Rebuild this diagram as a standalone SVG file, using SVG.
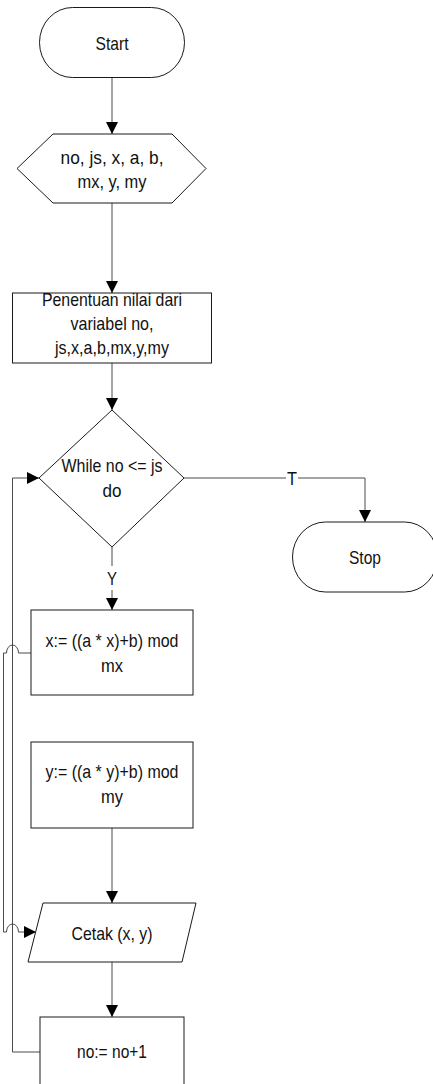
<svg xmlns="http://www.w3.org/2000/svg" width="433" height="1084" viewBox="0 0 433 1084">
<defs>
<marker id="arr" markerUnits="userSpaceOnUse" markerWidth="12" markerHeight="13" refX="12" refY="6" orient="auto">
<path d="M0,0 L12,6 L0,12 z" fill="#000"/>
</marker>
<style>
.shape{fill:#fff;stroke:#1a1a1a;stroke-width:1}
.conn{fill:none;stroke:#4a4a4a;stroke-width:1}
text{font-family:"Liberation Sans",Arial,sans-serif;font-size:19px;fill:#111;text-anchor:middle}
.lbl{fill:#fff;stroke:none}
</style>
</defs>
<rect width="433" height="1084" fill="#fff"/>
<g id="connectors">
<path class="conn" d="M112,77 V134" marker-end="url(#arr)"/>
<path class="conn" d="M112,203 V293" marker-end="url(#arr)"/>
<path class="conn" d="M112,363 V410" marker-end="url(#arr)"/>
<path class="conn" d="M112,547 V610" marker-end="url(#arr)"/>
<path class="conn" d="M184,478 H365 V522" marker-end="url(#arr)"/>
<path class="conn" d="M112,828 V903" marker-end="url(#arr)"/>
<path class="conn" d="M112,962 V1017" marker-end="url(#arr)"/>
<path class="conn" d="M40,1052 H12.5 V478 H39" marker-end="url(#arr)"/>
<path class="conn" d="M31,653 H18.5 A6,8 0 0 0 6.5,653 H3.5 V932 H6.5 A6,8 0 0 1 18.5,932 H36" marker-end="url(#arr)"/>
<rect class="lbl" x="106" y="566" width="12" height="24"/>
<text x="112" y="585" textLength="10" lengthAdjust="spacingAndGlyphs">Y</text>
<rect class="lbl" x="286" y="468" width="12" height="20"/>
<text x="292" y="485" textLength="10" lengthAdjust="spacingAndGlyphs">T</text>
</g>
<g id="start">
<rect class="shape" x="39.5" y="7.5" width="145" height="70" rx="33" ry="35"/>
<text x="112" y="49.5" textLength="33" lengthAdjust="spacingAndGlyphs">Start</text>
</g>
<g id="input">
<polygon class="shape" points="17,168.5 53,134 172,134 206,168.5 172,203 53,203"/>
<text x="112" y="164" textLength="103" lengthAdjust="spacingAndGlyphs">no, js, x, a, b,</text>
<text x="112" y="188" textLength="69" lengthAdjust="spacingAndGlyphs">mx, y, my</text>
</g>
<g id="init">
<rect class="shape" x="12.5" y="293" width="199" height="70"/>
<text x="112" y="306" textLength="140" lengthAdjust="spacingAndGlyphs">Penentuan nilai dari</text>
<text x="112" y="330" textLength="83" lengthAdjust="spacingAndGlyphs">variabel no,</text>
<text x="112" y="354" textLength="114" lengthAdjust="spacingAndGlyphs">js,x,a,b,mx,y,my</text>
</g>
<g id="while">
<polygon class="shape" points="112,410 184,478 112,547 39,478"/>
<text x="112" y="472" textLength="101" lengthAdjust="spacingAndGlyphs">While no &lt;= js</text>
<text x="112" y="497" textLength="19" lengthAdjust="spacingAndGlyphs">do</text>
</g>
<g id="stop">
<rect class="shape" x="292.5" y="522" width="145" height="70" rx="33" ry="35"/>
<text x="365" y="564" textLength="32" lengthAdjust="spacingAndGlyphs">Stop</text>
</g>
<g id="calcx">
<rect class="shape" x="31" y="610" width="162" height="85"/>
<text x="112" y="647" textLength="133" lengthAdjust="spacingAndGlyphs">x:= ((a * x)+b) mod</text>
<text x="112" y="672" textLength="22" lengthAdjust="spacingAndGlyphs">mx</text>
</g>
<g id="calcy">
<rect class="shape" x="31" y="742" width="162" height="86"/>
<text x="112" y="778" textLength="133" lengthAdjust="spacingAndGlyphs">y:= ((a * y)+b) mod</text>
<text x="112" y="803" textLength="22" lengthAdjust="spacingAndGlyphs">my</text>
</g>
<g id="print">
<polygon class="shape" points="43,903 196,903 182,962 28,962"/>
<text x="112" y="940" textLength="81" lengthAdjust="spacingAndGlyphs">Cetak (x, y)</text>
</g>
<g id="increment">
<rect class="shape" x="40" y="1017" width="144" height="90"/>
<text x="112" y="1058" textLength="70" lengthAdjust="spacingAndGlyphs">no:= no+1</text>
</g>
</svg>
